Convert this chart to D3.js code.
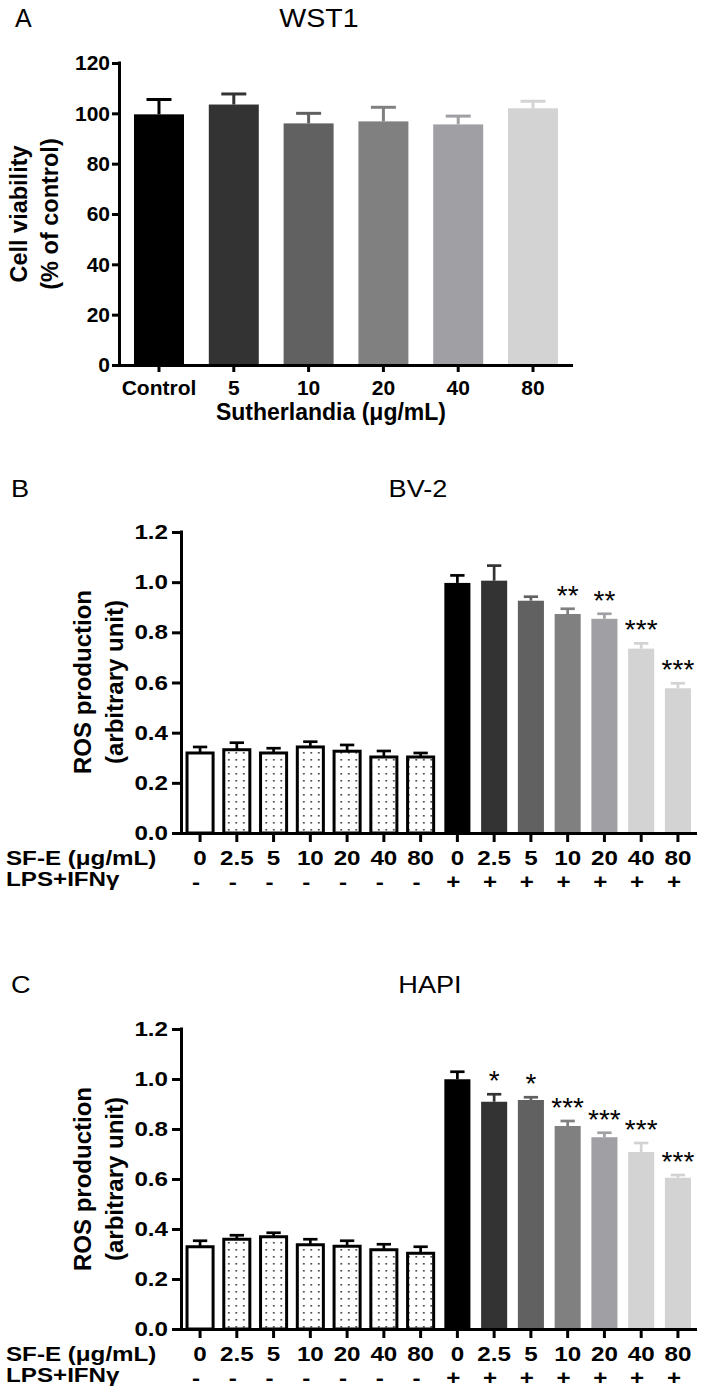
<!DOCTYPE html>
<html>
<head>
<meta charset="utf-8">
<script src="https://cdn.jsdelivr.net/npm/d3@7"></script>
<style>
  body { margin: 0; background: #fff; }
  text { font-family: "Liberation Sans", Arial, sans-serif; }
</style>
</head>
<body>
<div id="chart"></div>
<script>

// Panel A - WST1 viability
var wstGroups = ["Control", "5", "10", "20", "40", "80"];
var wstMean = [99.6, 103.5, 96.0, 96.8, 95.6, 102.0];
var wstSem = [5.9, 4.2, 4.0, 5.6, 3.3, 2.8];
var wstTicks = [0, 20, 40, 60, 80, 100, 120];

// Panels B and C - ROS production
var sfDoses = ["0", "2.5", "5", "10", "20", "40", "80", "0", "2.5", "5", "10", "20", "40", "80"];
var lpsSigns = ["-", "-", "-", "-", "-", "-", "-", "+", "+", "+", "+", "+", "+", "+"];
var rosTicks = [0, 0.2, 0.4, 0.6, 0.8, 1.0, 1.2];

var bv2Mean = [0.319, 0.332, 0.319, 0.343, 0.326, 0.303, 0.303, 0.997, 1.006, 0.926, 0.873, 0.854, 0.735, 0.577];
var bv2Sem = [0.024, 0.028, 0.019, 0.021, 0.025, 0.024, 0.016, 0.030, 0.060, 0.016, 0.021, 0.020, 0.021, 0.020];
var bv2Stars = ["", "", "", "", "", "", "", "", "", "", "**", "**", "***", "***"];

var hapiMean = [0.329, 0.359, 0.369, 0.337, 0.331, 0.317, 0.303, 0.999, 0.909, 0.916, 0.812, 0.767, 0.708, 0.605];
var hapiSem = [0.024, 0.016, 0.016, 0.022, 0.022, 0.022, 0.026, 0.030, 0.030, 0.011, 0.020, 0.018, 0.036, 0.011];
var hapiStars = ["", "", "", "", "", "", "", "", "*", "*", "***", "***", "***", "***"];

// colours
var wstColors = ["#000000", "#333333", "#616161", "#808080", "#a0a0a4", "#d3d3d3"];
var rosColors = ["#ffffff", "url(#dots)", "url(#dots)", "url(#dots)", "url(#dots)", "url(#dots)", "url(#dots)",
                 "#000000", "#333333", "#616161", "#808080", "#a0a0a4", "#d3d3d3", "#d3d3d3"];
var rosOutline = rosColors.map(function(c, i) { return i < 7; });

var svg = d3.select("#chart").append("svg")
    .attr("width", 706)
    .attr("height", 1399);

// dotted fill for the untreated bars
var pat = svg.append("defs").append("pattern")
    .attr("id", "dots")
    .attr("patternUnits", "userSpaceOnUse")
    .attr("width", 7.5).attr("height", 7);
pat.append("rect").attr("width", 7.5).attr("height", 7).attr("fill", "#fff");
pat.append("rect").attr("x", 3).attr("y", 3).attr("width", 1.6).attr("height", 1.6).attr("fill", "#333");

function addText(x, y, str, size, weight, anchor, sx) {
    return svg.append("text")
        .attr("transform", "translate(" + x + "," + y + ") scale(" + (sx || 1) + ",1)")
        .attr("text-anchor", anchor || "start")
        .style("font-size", size + "px")
        .style("font-weight", weight || "normal")
        .text(str);
}

function addYLabel(lines, xs, cy, size) {
    lines.forEach(function(l, i) {
        svg.append("text")
            .attr("transform", "translate(" + xs[i] + "," + cy + ") rotate(-90)")
            .attr("text-anchor", "middle")
            .style("font-size", size + "px")
            .style("font-weight", "bold")
            .text(l);
    });
}

function drawPanel(c) {
    var g = svg.append("g");
    var n = c.means.length;
    var x = d3.scaleBand().domain(d3.range(n)).range([c.x0, c.x1])
        .paddingInner(c.pi).paddingOuter(c.po);
    var y = d3.scaleLinear().domain([0, c.max]).range([c.y0, c.y1]);
    var bw = x.bandwidth();

    // bars
    g.selectAll("rect.bar").data(c.means).enter().append("rect")
        .attr("class", "bar")
        .attr("x", function(d, i) { return x(i); })
        .attr("width", bw)
        .attr("y", function(d) { return y(d); })
        .attr("height", function(d) { return y(0) - y(d); })
        .attr("fill", function(d, i) { return c.fills[i]; })
        .attr("stroke", function(d, i) { return c.outline && c.outline[i] ? "#000" : "none"; })
        .attr("stroke-width", 3);

    // upper error bars
    var eb = g.selectAll("g.err").data(c.means).enter().append("g")
        .attr("class", "err")
        .attr("stroke", function(d, i) { return c.outline && c.outline[i] ? "#000" : c.fills[i]; })
        .attr("stroke-width", c.ew);
    eb.append("line")
        .attr("x1", function(d, i) { return x(i) + bw / 2; })
        .attr("x2", function(d, i) { return x(i) + bw / 2; })
        .attr("y1", function(d) { return y(d); })
        .attr("y2", function(d, i) { return y(d + c.sems[i]); });
    eb.append("line")
        .attr("x1", function(d, i) { return x(i) + bw / 2 - bw * c.cap / 2; })
        .attr("x2", function(d, i) { return x(i) + bw / 2 + bw * c.cap / 2; })
        .attr("y1", function(d, i) { return y(d + c.sems[i]); })
        .attr("y2", function(d, i) { return y(d + c.sems[i]); });

    // significance stars
    if (c.stars) {
        g.selectAll("text.star").data(c.stars).enter().append("text")
            .attr("class", "star")
            .attr("transform", function(d, i) {
                return "translate(" + (x(i) + bw / 2) + "," + (y(c.means[i] + c.sems[i]) - 4) + ")";
            })
            .attr("text-anchor", "middle")
            .style("font-size", "28px")
            .text(function(d) { return d; });
    }

    // axes
    var yAxis = d3.axisLeft(y).tickValues(c.ticks).tickFormat(c.fmt)
        .tickSize(c.tick).tickSizeOuter(0).tickPadding(c.tpad);
    var ya = g.append("g").attr("transform", "translate(" + c.x0 + ",0)").call(yAxis);
    ya.select(".domain").attr("d", "M0.5," + (c.y0 + 1.5) + "V" + (c.y1 - 1.5));
    ya.selectAll(".tick text")
        .attr("x", -(c.tick + c.tpad) / c.sx)
        .attr("transform", "scale(" + c.sx + ",1)");

    var xAxis = d3.axisBottom(x).tickFormat(function(i) { return c.labels[i]; })
        .tickSize(c.tick).tickSizeOuter(0);
    var xa = g.append("g").attr("transform", "translate(0," + c.y0 + ")").call(xAxis);
    xa.select(".domain").attr("d", "M" + (c.x0 - 1) + ",0.5H" + c.x1);
    xa.selectAll(".tick text")
        .attr("y", c.lblY).attr("dy", 0)
        .attr("transform", "scale(" + c.sx + ",1)");

    g.selectAll(".domain, .tick line").attr("stroke", "#000").attr("stroke-width", 3);
    g.selectAll(".tick text")
        .attr("fill", "#000")
        .style("font-size", c.fs + "px")
        .style("font-weight", "bold")
        .style("font-family", "'Liberation Sans', Arial, sans-serif");

    // LPS+IFNg row
    if (c.signs) {
        g.selectAll("text.sign").data(c.signs).enter().append("text")
            .attr("class", "sign")
            .attr("transform", function(d, i) {
                return "translate(" + (x(i) + bw / 2 - 4) + "," + c.signY + ") scale(" + c.sx + ",1)";
            })
            .attr("text-anchor", "middle")
            .style("font-size", c.fs + "px")
            .style("font-weight", "bold")
            .text(function(d) { return d; });
    }
    return x;
}

// ---- Panel A ----
addText(15, 27, "A", 25);
addText(319, 27, "WST1", 25.5, "normal", "middle", 1.12);
drawPanel({
    x0: 119, x1: 573, pi: 0.3316, po: 0.2005,
    y0: 365, y1: 63, max: 120, ticks: wstTicks, fmt: d3.format("d"),
    means: wstMean, sems: wstSem, labels: wstGroups, fills: wstColors,
    tick: 7, tpad: 2, fs: 21, sx: 1, lblY: 30, cap: 0.5, ew: 3
});
addYLabel(["Cell viability", "(% of control)"], [27, 58], 214, 23.5);
addText(331, 420, "Sutherlandia (\u03bcg/mL)", 23, "bold", "middle");

// ---- Panel B ----
addText(11, 497, "B", 23, "normal", "start", 1.18);
addText(418, 497, "BV-2", 23, "normal", "middle", 1.18);
drawPanel({
    x0: 181, x1: 697, pi: 0.291, po: 0.164,
    y0: 833, y1: 532, max: 1.2, ticks: rosTicks, fmt: d3.format(".1f"),
    means: bv2Mean, sems: bv2Sem, labels: sfDoses, fills: rosColors, outline: rosOutline,
    stars: bv2Stars, signs: lpsSigns, signY: 889,
    tick: 9, tpad: 4, fs: 20.5, sx: 1.18, lblY: 32, cap: 0.55, ew: 2.7
});
addYLabel(["ROS production", "(arbitrary unit)"], [91, 123], 682, 24);
addText(6, 865, "SF-E (\u03bcg/mL)", 20.5, "bold", "start", 1.18);
addText(6, 886, "LPS+IFN\u03b3", 20.5, "bold", "start", 1.18);

// ---- Panel C ----
addText(11, 993, "C", 23, "normal", "start", 1.18);
addText(430, 993, "HAPI", 23, "normal", "middle", 1.18);
drawPanel({
    x0: 181, x1: 697, pi: 0.291, po: 0.164,
    y0: 1329, y1: 1029, max: 1.2, ticks: rosTicks, fmt: d3.format(".1f"),
    means: hapiMean, sems: hapiSem, labels: sfDoses, fills: rosColors, outline: rosOutline,
    stars: hapiStars, signs: lpsSigns, signY: 1385,
    tick: 9, tpad: 4, fs: 20.5, sx: 1.18, lblY: 32, cap: 0.55, ew: 2.7
});
addYLabel(["ROS production", "(arbitrary unit)"], [91, 123], 1179, 24);
addText(6, 1361, "SF-E (\u03bcg/mL)", 20.5, "bold", "start", 1.18);
addText(6, 1382, "LPS+IFN\u03b3", 20.5, "bold", "start", 1.18);

</script>
</body>
</html>
